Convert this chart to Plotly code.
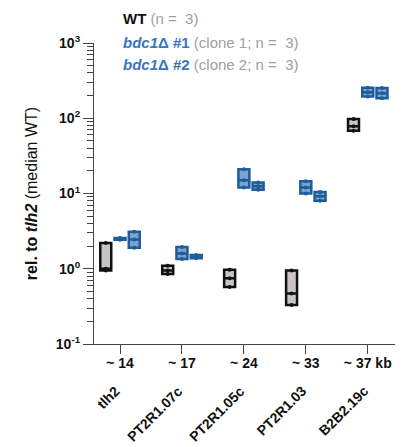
import plotly.graph_objects as go

# ---- data ----
positions = ["~ 14", "~ 17", "~ 24", "~ 33", "~ 37 kb"]
genes = ["tlh2", "PT2R1.07c", "PT2R1.05c", "PT2R1.03", "B2B2.19c"]
wt_vals = [[0.95, 1.0, 2.2], [0.85, 0.95, 1.1], [0.57, 0.75, 0.97], [0.33, 0.47, 0.95], [68, 78, 98]]
c1_vals = [[2.42, 2.5, 2.56], [1.35, 1.6, 1.95], [12, 15, 21], [10, 12, 14.5], [195, 222, 255]]
c2_vals = [[1.9, 2.45, 3.1], [1.38, 1.45, 1.52], [11.2, 12.5, 14], [8, 9.2, 10.5], [185, 215, 252]]
series = [
    ("WT", wt_vals, "#111111", "#c9c5c5"),
    ("bdc1Δ #1", c1_vals, "#1c5d9c", "#7fa2cc"),
    ("bdc1Δ #2", c2_vals, "#1c5d9c", "#7fa2cc"),
]
ytickvals = [0.1, 1, 10, 100, 1000]
yticktext = ["<b>10<sup>-1</sup></b>", "<b>10<sup>0</sup></b>", "<b>10<sup>1</sup></b>",
             "<b>10<sup>2</sup></b>", "<b>10<sup>3</sup></b>"]

fig = go.Figure()
for name, vals, lc, fc in series:
    xs, ys = [], []
    for cat, v in zip(positions, vals):
        xs += [cat] * len(v)
        ys += v
    fig.add_trace(go.Box(
        x=xs, y=ys, name=name, quartilemethod="exclusive",
        line=dict(color=lc, width=2.5), fillcolor=fc,
        boxpoints="all", jitter=0, pointpos=0,
        marker=dict(color=lc, size=4), whiskerwidth=0.3,
        showlegend=False,
    ))

fig.update_layout(
    width=408, height=447,
    margin=dict(l=94, r=13, t=43, b=103),
    paper_bgcolor="white", plot_bgcolor="white",
    boxmode="group", boxgap=0.31, boxgroupgap=0.23,
    font=dict(family="Liberation Sans, Arial, sans-serif", color="#111"),
)
fig.update_xaxes(
    type="category", categoryorder="array", categoryarray=positions,
    range=[-0.42, 4.44], showline=True, linecolor="#444", linewidth=1.2,
    ticks="outside", ticklen=9, tickcolor="#444", tickwidth=1.2,
    tickfont=dict(size=14, color="#111"), ticklabelstandoff=-3,
    tickvals=positions, ticktext=["<b>%s</b>" % p for p in positions],
    showgrid=False, zeroline=False,
)
fig.update_yaxes(
    type="log", range=[-1, 3], showline=True, linecolor="#444", linewidth=1.2,
    ticks="outside", ticklen=10, tickcolor="#444", tickwidth=1.2,
    tickvals=ytickvals, ticktext=yticktext, tickfont=dict(size=14, color="#111"),
    minor=dict(ticks="outside", ticklen=6, tickcolor="#444", tickwidth=1, dtick="D1", showgrid=False),
    showgrid=False, zeroline=False,
    title=dict(text="<b>rel. to <i>tlh2</i></b> (median WT)", font=dict(size=16, color="#111"), standoff=14),
)

# rotated gene labels
for i, g in enumerate(genes):
    fig.add_annotation(x=i + 0.1, y=-0.12, xref="x", yref="paper", text="<b>%s</b>" % g,
                       textangle=-45, xanchor="right", yanchor="top", showarrow=False,
                       font=dict(size=14, color="#111"))

# legend as text
gray = "#a0a0a0"
blue = "#3a74bd"
nb = "\u00a0"
leg = [
    ("<b>WT</b> <span style='color:%s'>(n =%s 3)</span>" % (gray, nb), 1.083),
    ("<span style='color:%s'><b><i>bdc1</i>Δ #1</b></span> <span style='color:%s'>(clone 1; n =%s 3)</span>" % (blue, gray, nb), 1.003),
    ("<span style='color:%s'><b><i>bdc1</i>Δ #2</b></span> <span style='color:%s'>(clone 2; n =%s 3)</span>" % (blue, gray, nb), 0.927),
]
for t, yy in leg:
    fig.add_annotation(x=0.09, y=yy, xref="paper", yref="paper", text=t, showarrow=False,
                       xanchor="left", yanchor="middle", font=dict(size=15, color="#111"))

fig.write_html("out.html")
